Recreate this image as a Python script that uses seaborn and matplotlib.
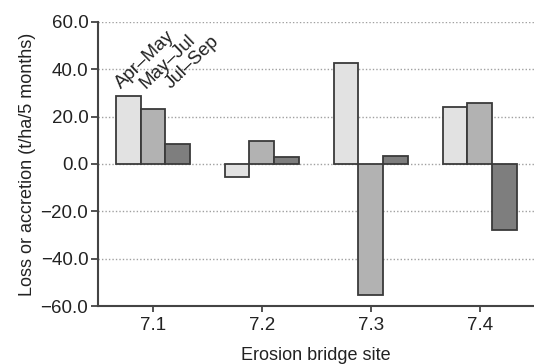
import pandas as pd
import seaborn as sns
import matplotlib.pyplot as plt

sites = ["7.1", "7.2", "7.3", "7.4"]
periods = ["Apr\u2013May", "May\u2013Jul", "Jul\u2013Sep"]
apr_may = [28.6, -5.4, 42.8, 24.0]
may_jul = [23.4, 9.8, -55.3, 25.6]
jul_sep = [8.3, 3.0, 3.5, -27.9]

rows = []
for i, s in enumerate(sites):
    for p, vals in zip(periods, [apr_may, may_jul, jul_sep]):
        rows.append({"site": s, "period": p, "value": vals[i]})
df = pd.DataFrame(rows)

sns.set_style("white")
plt.rcParams['font.family'] = ['Liberation Sans', 'DejaVu Sans']

fig = plt.figure(figsize=(5.34, 3.64), dpi=100)
ax = fig.add_axes([0.1835, 0.159, 0.8165, 0.781])

ax.set_axisbelow(True)
ax.yaxis.grid(True, linestyle=(0, (1, 1.5)), color="#a0a0a0", linewidth=1.0)

palette = ["#e2e2e2", "#b2b2b2", "#7e7e7e"]
sns.barplot(data=df, x="site", y="value", hue="period", hue_order=periods,
            palette=palette, width=0.68, edgecolor="#3a3a3a", linewidth=1.3,
            saturation=1, legend=False, ax=ax)

# period labels above the first group
for bars, p in zip(ax.containers, periods):
    b = bars[0]
    cx = b.get_x() + b.get_width() / 2
    ax.text(cx - 0.04, 30.5, p, rotation=44, rotation_mode="anchor",
            ha="left", va="bottom", fontsize=13.5, color="#222222")

ax.set_ylim(-60, 60)
ax.set_xlim(-0.505, 3.5)
ax.set_yticks([-60, -40, -20, 0, 20, 40, 60])
ax.set_yticklabels(["\u221260.0", "\u221240.0", "\u221220.0", "0.0", "20.0", "40.0", "60.0"])
ax.tick_params(axis="y", labelsize=13.5, length=5, width=1.3, color="#444444",
               left=True, pad=2, labelcolor="#222222")
ax.tick_params(axis="x", labelsize=13.5, length=4, width=1.3, color="#444444",
               bottom=True, pad=4, labelcolor="#222222")

for side in ["top", "right"]:
    ax.spines[side].set_visible(False)
for side in ["left", "bottom"]:
    ax.spines[side].set_color("#444444")
    ax.spines[side].set_linewidth(1.5)

ax.set_ylabel("Loss or accretion (t/ha/5 months)", fontsize=13, color="#222222", labelpad=3)
ax.set_xlabel("Erosion bridge site", fontsize=13, color="#222222", labelpad=9)

fig.savefig("out.png", dpi=100)
